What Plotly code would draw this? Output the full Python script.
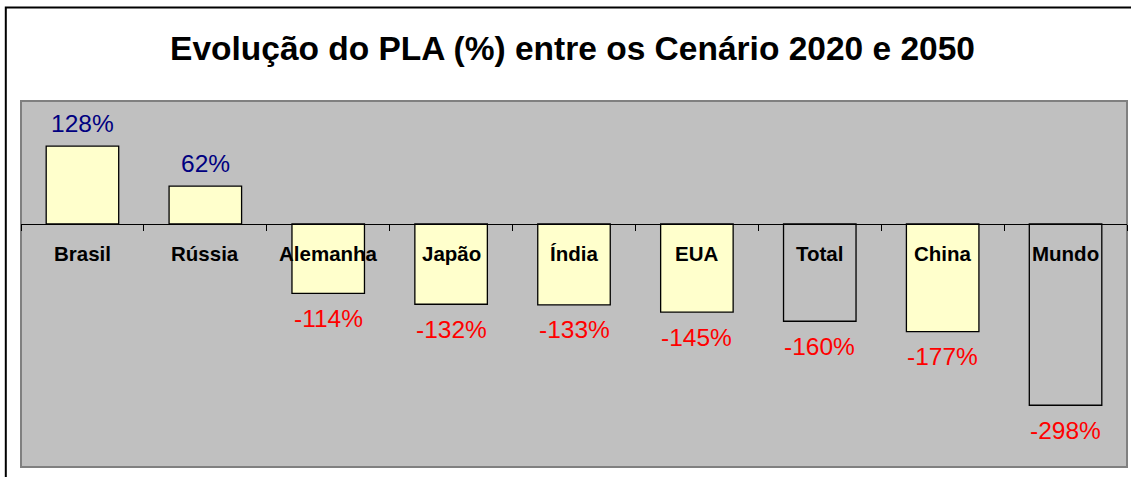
import plotly.graph_objects as go

categories = ["Brasil", "Rússia", "Alemanha", "Japão", "Índia", "EUA", "Total", "China", "Mundo"]
values = [128, 62, -114, -132, -133, -145, -160, -177, -298]
neutral = ["Total", "Mundo"]
title_text = "Evolução do PLA (%) entre os Cenário 2020 e 2050"

FONT = "Liberation Sans, Arial, sans-serif"
Y_RANGE = [-399.5, 202]
W, H = 1131, 477
ML, MR, MT, MB = 21, 4, 101, 10

fills = ["#C0C0C0" if c in neutral else "#FFFFCC" for c in categories]

fig = go.Figure()
fig.add_trace(go.Bar(
    x=categories, y=values, width=0.59,
    marker=dict(color=fills, line=dict(color="black", width=1.3)),
    hoverinfo="skip",
))

zero_pos = (0 - Y_RANGE[0]) / (Y_RANGE[1] - Y_RANGE[0])

annotations = []
for c, v in zip(categories, values):
    annotations.append(dict(
        x=c, y=v, xref="x", yref="y", showarrow=False,
        text=f"{v}%", yanchor="middle",
        yshift=23 if v > 0 else -25,
        font=dict(family=FONT, size=24.5, color="#000080" if v > 0 else "#FF0000"),
    ))
    annotations.append(dict(
        x=c, y=0, xref="x", yref="y", showarrow=False,
        text=f"<b>{c}</b>", yanchor="middle", yshift=-30,
        font=dict(family=FONT, size=20.5, color="black"),
    ))

plot_h = H - MT - MB
plot_w = W - ML - MR
shapes = [
    dict(type="rect", xref="paper", yref="paper", x0=0, x1=1, y0=0, y1=1,
         line=dict(color="#808080", width=2), layer="below"),
    dict(type="rect", xref="paper", yref="paper",
         x0=(5.8 - ML) / plot_w, x1=1.2,
         y0=-0.2, y1=(H - MB - 7.5) / plot_h,
         line=dict(color="black", width=2)),
]

fig.update_layout(
    width=W, height=H,
    margin=dict(l=ML, r=MR, t=MT, b=MB),
    paper_bgcolor="white", plot_bgcolor="#C0C0C0",
    showlegend=False,
    title=dict(text=f"<b>{title_text}</b>", x=572.5 / W, xanchor="center",
               y=1 - 48 / H, yanchor="middle", yref="container",
               font=dict(family=FONT, size=33.5, color="black")),
    xaxis=dict(anchor="free", position=zero_pos, showline=True, linecolor="black",
               linewidth=1, ticks="outside", ticklen=6, tickcolor="black",
               tickwidth=1, tickson="boundaries", showticklabels=False,
               showgrid=False, zeroline=False, fixedrange=True),
    yaxis=dict(range=Y_RANGE, visible=False, showgrid=False, zeroline=False),
    annotations=annotations,
    shapes=shapes,
    bargap=0.41,
)

fig.write_html(
    "out.html",
    config={"displayModeBar": False},
    post_script="document.body.style.margin='0';document.body.style.overflow='hidden';",
)
